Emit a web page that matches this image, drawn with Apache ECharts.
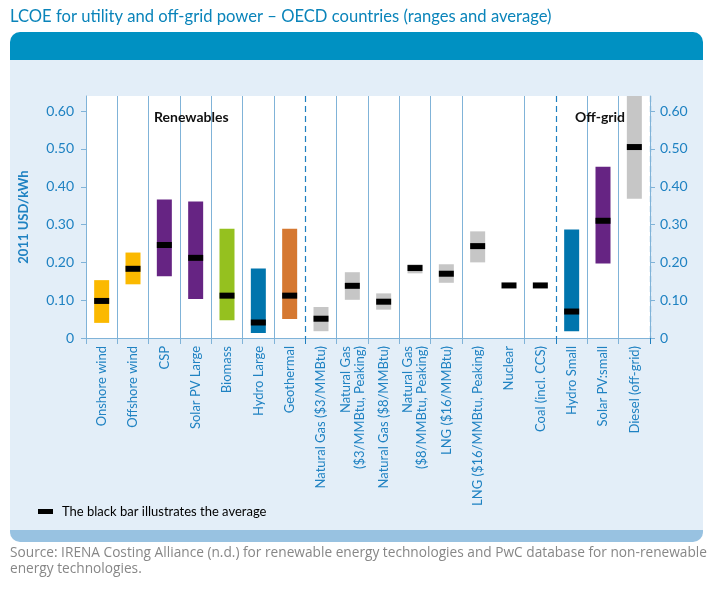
<!DOCTYPE html>
<html>
<head>
<meta charset="utf-8">
<script src="https://cdn.jsdelivr.net/npm/echarts@6/dist/echarts.min.js"></script>
<style>
  html, body { margin: 0; padding: 0; background: #fff; }
  #chart { width: 718px; height: 594px; }
</style>
</head>
<body>
<div id="chart"></div>
<script>
// Technologies on the x axis
const categories = [
    'Onshore wind', 'Offshore wind', 'CSP', 'Solar PV Large', 'Biomass', 'Hydro Large', 'Geothermal',
    'Natural Gas ($3/MMBtu)', 'Natural Gas\n($3/MMBtu, Peaking)', 'Natural Gas ($8/MMBtu)',
    'Natural Gas\n($8/MMBtu, Peaking)', 'LNG ($16/MMBtu)', 'LNG ($16/MMBtu, Peaking)',
    'Nuclear', 'Coal (incl. CCS)', 'Hydro Small', 'Solar PV:small', 'Diesel (off-grid)'
];

// LCOE range (low / high) and average, 2011 USD/kWh
const lowValues = [0.040, 0.142, 0.163, 0.103, 0.047, 0.013, 0.050, 0.018, 0.101, 0.075, 0.171, 0.146, 0.200, 0.139, 0.139, 0.018, 0.197, 0.368];
const highValues = [0.153, 0.226, 0.366, 0.361, 0.289, 0.184, 0.289, 0.082, 0.174, 0.118, 0.195, 0.195, 0.282, 0.139, 0.139, 0.287, 0.453, 0.640];
const avgValues = [0.098, 0.183, 0.246, 0.212, 0.112, 0.041, 0.112, 0.051, 0.138, 0.096, 0.185, 0.170, 0.243, 0.139, 0.139, 0.070, 0.310, 0.505];

// Colour of each range bar
const barColors = [
    '#fbb900', '#fbb900', '#662483', '#662483', '#95c11f', '#0075ad', '#d57831',
    '#c6c6c6', '#c6c6c6', '#c6c6c6', '#c6c6c6', '#c6c6c6', '#c6c6c6',
    '#c6c6c6', '#c6c6c6', '#0075ad', '#662483', '#c6c6c6'
];

// Tick labels of the value axes
const yTicks = [0, 0.1, 0.2, 0.3, 0.4, 0.5, 0.6];

// Category boundaries: no separator before these, dashed separator before those
const noSeparator = [7, 13, 15];
const dashedSeparator = [7, 15];

const fontFamily = 'Lato, "Open Sans", sans-serif';
const axisBlue = '#80b3d8';
const textBlue = '#1f82c2';

const chart = echarts.init(document.getElementById('chart'));

const seriesData = categories.map((c, i) => [i, lowValues[i], highValues[i], avgValues[i]]);

function renderRange(params, api) {
    const i = api.value(0);
    const lo = api.coord([i, api.value(1)]);
    const hi = api.coord([i, api.value(2)]);
    const av = api.coord([i, api.value(3)]);
    const w = 15;
    return {
        type: 'group',
        children: [
            {
                type: 'rect',
                shape: { x: lo[0] - w / 2, y: hi[1], width: w, height: lo[1] - hi[1] },
                style: { fill: barColors[i] }
            },
            {
                type: 'rect',
                shape: { x: av[0] - w / 2, y: av[1] - 3, width: w, height: 6 },
                style: { fill: '#000' }
            }
        ]
    };
}

function yLabel(v) {
    return v === 0 ? '0' : v.toFixed(2);
}

const valueAxisBase = {
    type: 'value',
    min: 0,
    max: 0.64,
    interval: 0.1,
    axisLine: { show: true, lineStyle: { color: axisBlue, width: 1 } },
    axisTick: { show: true, length: 5, customValues: yTicks, lineStyle: { color: axisBlue } },
    splitLine: { show: false },
    axisLabel: {
        customValues: yTicks,
        formatter: yLabel,
        color: textBlue,
        fontSize: 14,
        fontFamily: fontFamily
    }
};

const option = {
    backgroundColor: '#fff',
    animation: false,
    title: {
        text: 'LCOE for utility and off-grid power \u2013 OECD countries (ranges and average)',
        left: 10,
        top: 8,
        padding: 0,
        textStyle: { color: '#0a84ba', fontSize: 16.6, fontWeight: 'normal', fontFamily: fontFamily }
    },
    legend: {
        left: 38,
        top: 505,
        padding: 0,
        itemWidth: 15,
        itemHeight: 5,
        data: [{ name: 'The black bar illustrates the average', icon: 'rect' }],
        textStyle: { color: '#000', fontSize: 13, fontFamily: fontFamily, padding: [0, 0, 0, 4] }
    },
    graphic: [
        {
            type: 'rect', z: -10, silent: true,
            shape: { x: 10, y: 32, width: 693, height: 36, r: [10, 10, 0, 0] },
            style: { fill: '#0091c2' }
        },
        {
            type: 'rect', z: -9, silent: true,
            shape: { x: 10, y: 60, width: 693, height: 474 },
            style: { fill: '#e3eef8' }
        },
        {
            type: 'rect', z: -9, silent: true,
            shape: { x: 10, y: 530, width: 693, height: 12, r: [0, 0, 10, 10] },
            style: { fill: '#98c2e1' }
        },
        {
            type: 'text', z: 10, silent: true, left: 154, top: 110,
            style: { text: 'Renewables', fill: '#111', font: 'bold 14px ' + fontFamily }
        },
        {
            type: 'text', z: 10, silent: true, left: 575, top: 110,
            style: { text: 'Off-grid', fill: '#111', font: 'bold 14px ' + fontFamily }
        },
        {
            type: 'text', silent: true, left: 10, top: 545,
            style: {
                text: 'Source: IRENA Costing Alliance (n.d.) for renewable energy technologies and PwC database for non-renewable\nenergy technologies.',
                fill: '#878787',
                font: '13.7px "Open Sans", sans-serif',
                lineHeight: 16
            }
        }
    ],
    grid: {
        left: 86,
        right: 68,
        top: 96,
        bottom: 256,
        show: true,
        backgroundColor: '#fff',
        borderWidth: 0
    },
    xAxis: [
        {
            type: 'category',
            data: categories,
            axisLine: { show: true, lineStyle: { color: axisBlue } },
            axisTick: {
                show: true, length: 6,
                interval: (i) => !noSeparator.includes(i),
                lineStyle: { color: axisBlue }
            },
            splitLine: {
                show: true,
                interval: (i) => !noSeparator.includes(i),
                lineStyle: { color: axisBlue, width: 1 }
            },
            axisLabel: {
                interval: 0,
                rotate: 90,
                margin: 8,
                color: textBlue,
                fontSize: 13,
                lineHeight: 14,
                fontFamily: fontFamily
            }
        },
        {
            type: 'category',
            data: categories,
            position: 'bottom',
            axisLine: { show: false },
            axisLabel: { show: false },
            axisTick: {
                show: true, length: 6,
                interval: (i) => dashedSeparator.includes(i),
                lineStyle: { color: '#1f7fbf', type: [6, 4] }
            },
            splitLine: {
                show: true,
                interval: (i) => dashedSeparator.includes(i),
                lineStyle: { color: '#1f7fbf', width: 1.2, type: [6, 4] }
            }
        }
    ],
    yAxis: [
        Object.assign({}, valueAxisBase, {
            position: 'left',
            name: '2011 USD/kWh',
            nameLocation: 'middle',
            nameGap: 56,
            nameTextStyle: { color: textBlue, fontSize: 13, fontWeight: 'bold', fontFamily: fontFamily },
            axisLabel: Object.assign({}, valueAxisBase.axisLabel, { margin: 12 })
        }),
        Object.assign({}, valueAxisBase, {
            position: 'right',
            axisLabel: Object.assign({}, valueAxisBase.axisLabel, { margin: 10 })
        })
    ],
    series: [
        {
            name: 'The black bar illustrates the average',
            type: 'custom',
            xAxisIndex: 0,
            yAxisIndex: 0,
            itemStyle: { color: '#000' },
            renderItem: renderRange,
            encode: { x: 0, y: [1, 2, 3] },
            data: seriesData,
            z: 5
        }
    ]
};

chart.setOption(option);

window.addEventListener('resize', () => {
    chart.resize();
});
</script>
</body>
</html>
